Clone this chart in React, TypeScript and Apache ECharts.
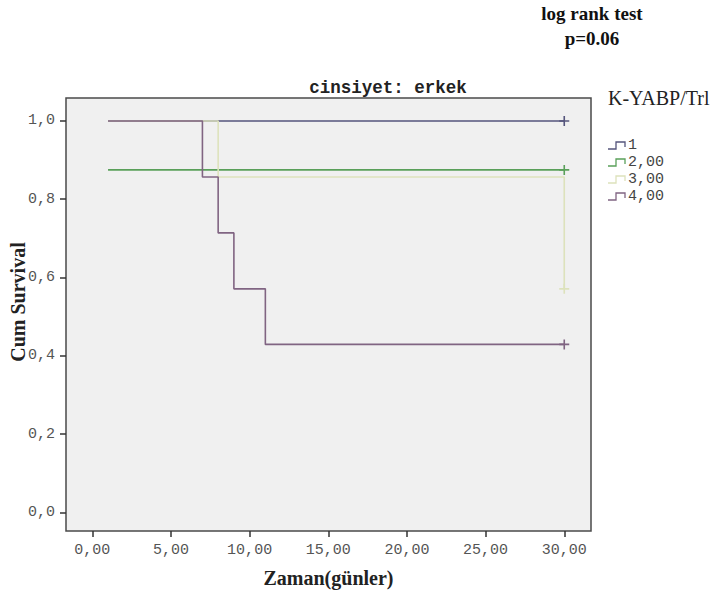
import React, { useEffect, useRef } from "react";
import * as echarts from "echarts";

const groupNames = ["1", "2,00", "3,00", "4,00"];
const groupColors = ["#55557c", "#5aa05a", "#dde2bc", "#806482"];
const times1 = [1, 30];
const surv1 = [1, 1];
const times2 = [1, 30];
const surv2 = [0.875, 0.875];
const times3 = [1, 8, 30, 30];
const surv3 = [1, 0.857, 0.857, 0.571];
const times4 = [1, 7, 8, 9, 11, 30];
const surv4 = [1, 0.857, 0.714, 0.571, 0.429, 0.429];
const xTicks = [0, 5, 10, 15, 20, 25, 30];
const yTicks = [0, 0.2, 0.4, 0.6, 0.8, 1.0];

const PLUS = "path://M0,4.2L10,4.2L10,5.8L0,5.8Z M4.2,0L5.8,0L5.8,10L4.2,10Z";

function buildData(t: number[], s: number[]) {
  return t.map((x, i) =>
    i === t.length - 1
      ? { value: [x, s[i]], symbol: PLUS, symbolSize: 10 }
      : { value: [x, s[i]], symbol: "none" }
  );
}

export default function App() {
  const ref = useRef<HTMLDivElement>(null);
  useEffect(() => {
    if (!ref.current) return;
    const chart = echarts.init(ref.current, null, { renderer: "svg" });
    const allT = [times1, times2, times3, times4];
    const allS = [surv1, surv2, surv3, surv4];
    const series = allT.map((t, i) => ({
      type: "line",
      name: groupNames[i],
      step: "end",
      data: buildData(t, allS[i]),
      showSymbol: true,
      lineStyle: { color: groupColors[i], width: 1.6 },
      itemStyle: { color: groupColors[i] },
      z: 2 + i,
    }));
    const legendGraphics: any[] = [];
    groupNames.forEach((n, i) => {
      const y = 145 + i * 17;
      legendGraphics.push({
        type: "polyline",
        shape: { points: [[608, y + 4], [616, y + 4], [616, y - 3], [625, y - 3], [625, y + 2]] },
        style: { stroke: groupColors[i], lineWidth: 1.3, fill: null },
      });
      legendGraphics.push({
        type: "text",
        x: 628,
        y: y,
        style: {
          text: n,
          font: "15px 'Liberation Mono', monospace",
          fill: "#444",
          textVerticalAlign: "middle",
        },
      });
    });
    const tickStyle = { color: "#333", width: 1.5 };
    chart.setOption({
      animation: false,
      backgroundColor: "#ffffff",
      grid: {
        left: 66,
        top: 98,
        width: 525,
        height: 433,
        containLabel: false,
        outerBoundsMode: "none",
        show: true,
        backgroundColor: "#f0f0f0",
        borderColor: "#4a4a4a",
        borderWidth: 1.5,
      },
      xAxis: {
        type: "value",
        min: -1.672,
        max: 31.7,
        axisLine: { show: false, onZero: false },
        splitLine: { show: false },
        axisTick: {
          show: true,
          length: 6,
          customValues: xTicks,
          lineStyle: tickStyle,
        },
        axisLabel: {
          customValues: xTicks,
          formatter: (v: number) => v.toFixed(2).replace(".", ","),
          fontFamily: "'Liberation Mono', monospace",
          fontSize: 15,
          color: "#555",
          margin: 12,
        },
        name: "Zaman(günler)",
        nameLocation: "middle",
        nameGap: 37,
        nameTextStyle: {
          fontFamily: "'Liberation Serif', serif",
          fontWeight: "bold",
          fontSize: 20,
          color: "#222",
        },
      },
      yAxis: {
        type: "value",
        min: -0.0478,
        max: 1.0587,
        axisLine: { show: false, onZero: false },
        splitLine: { show: false },
        axisTick: {
          show: true,
          length: 6,
          customValues: yTicks,
          lineStyle: tickStyle,
        },
        axisLabel: {
          customValues: yTicks,
          formatter: (v: number) => v.toFixed(1).replace(".", ","),
          fontFamily: "'Liberation Mono', monospace",
          fontSize: 15,
          color: "#555",
          margin: 11,
        },
      },
      graphic: [
        {
          type: "text",
          x: 18,
          y: 302,
          rotation: Math.PI / 2,
          style: {
            text: "Cum Survival",
            font: "bold 20px 'Liberation Serif', serif",
            fill: "#222",
            textAlign: "center",
            textVerticalAlign: "middle",
          },
        },
        {
          type: "text",
          x: 592,
          y: 13,
          style: {
            text: "log rank test",
            font: "bold 19px 'Liberation Serif', serif",
            fill: "#111",
            textAlign: "center",
            textVerticalAlign: "middle",
          },
        },
        {
          type: "text",
          x: 592,
          y: 38,
          style: {
            text: "p=0.06",
            font: "bold 19px 'Liberation Serif', serif",
            fill: "#111",
            textAlign: "center",
            textVerticalAlign: "middle",
          },
        },
        {
          type: "text",
          x: 388,
          y: 88,
          style: {
            text: "cinsiyet: erkek",
            font: "bold 17.5px 'Liberation Mono', monospace",
            fill: "#222",
            textAlign: "center",
            textVerticalAlign: "middle",
          },
        },
        {
          type: "text",
          x: 608,
          y: 98,
          style: {
            text: "K-YABP/Trl",
            font: "20px 'Liberation Serif', serif",
            fill: "#222",
            textAlign: "left",
            textVerticalAlign: "middle",
          },
        },
        ...legendGraphics,
      ],
      series,
    } as any);
    return () => chart.dispose();
  }, []);
  return (
    <div
      ref={ref}
      style={{ position: "fixed", left: 0, top: 0, width: 717, height: 595 }}
    />
  );
}
